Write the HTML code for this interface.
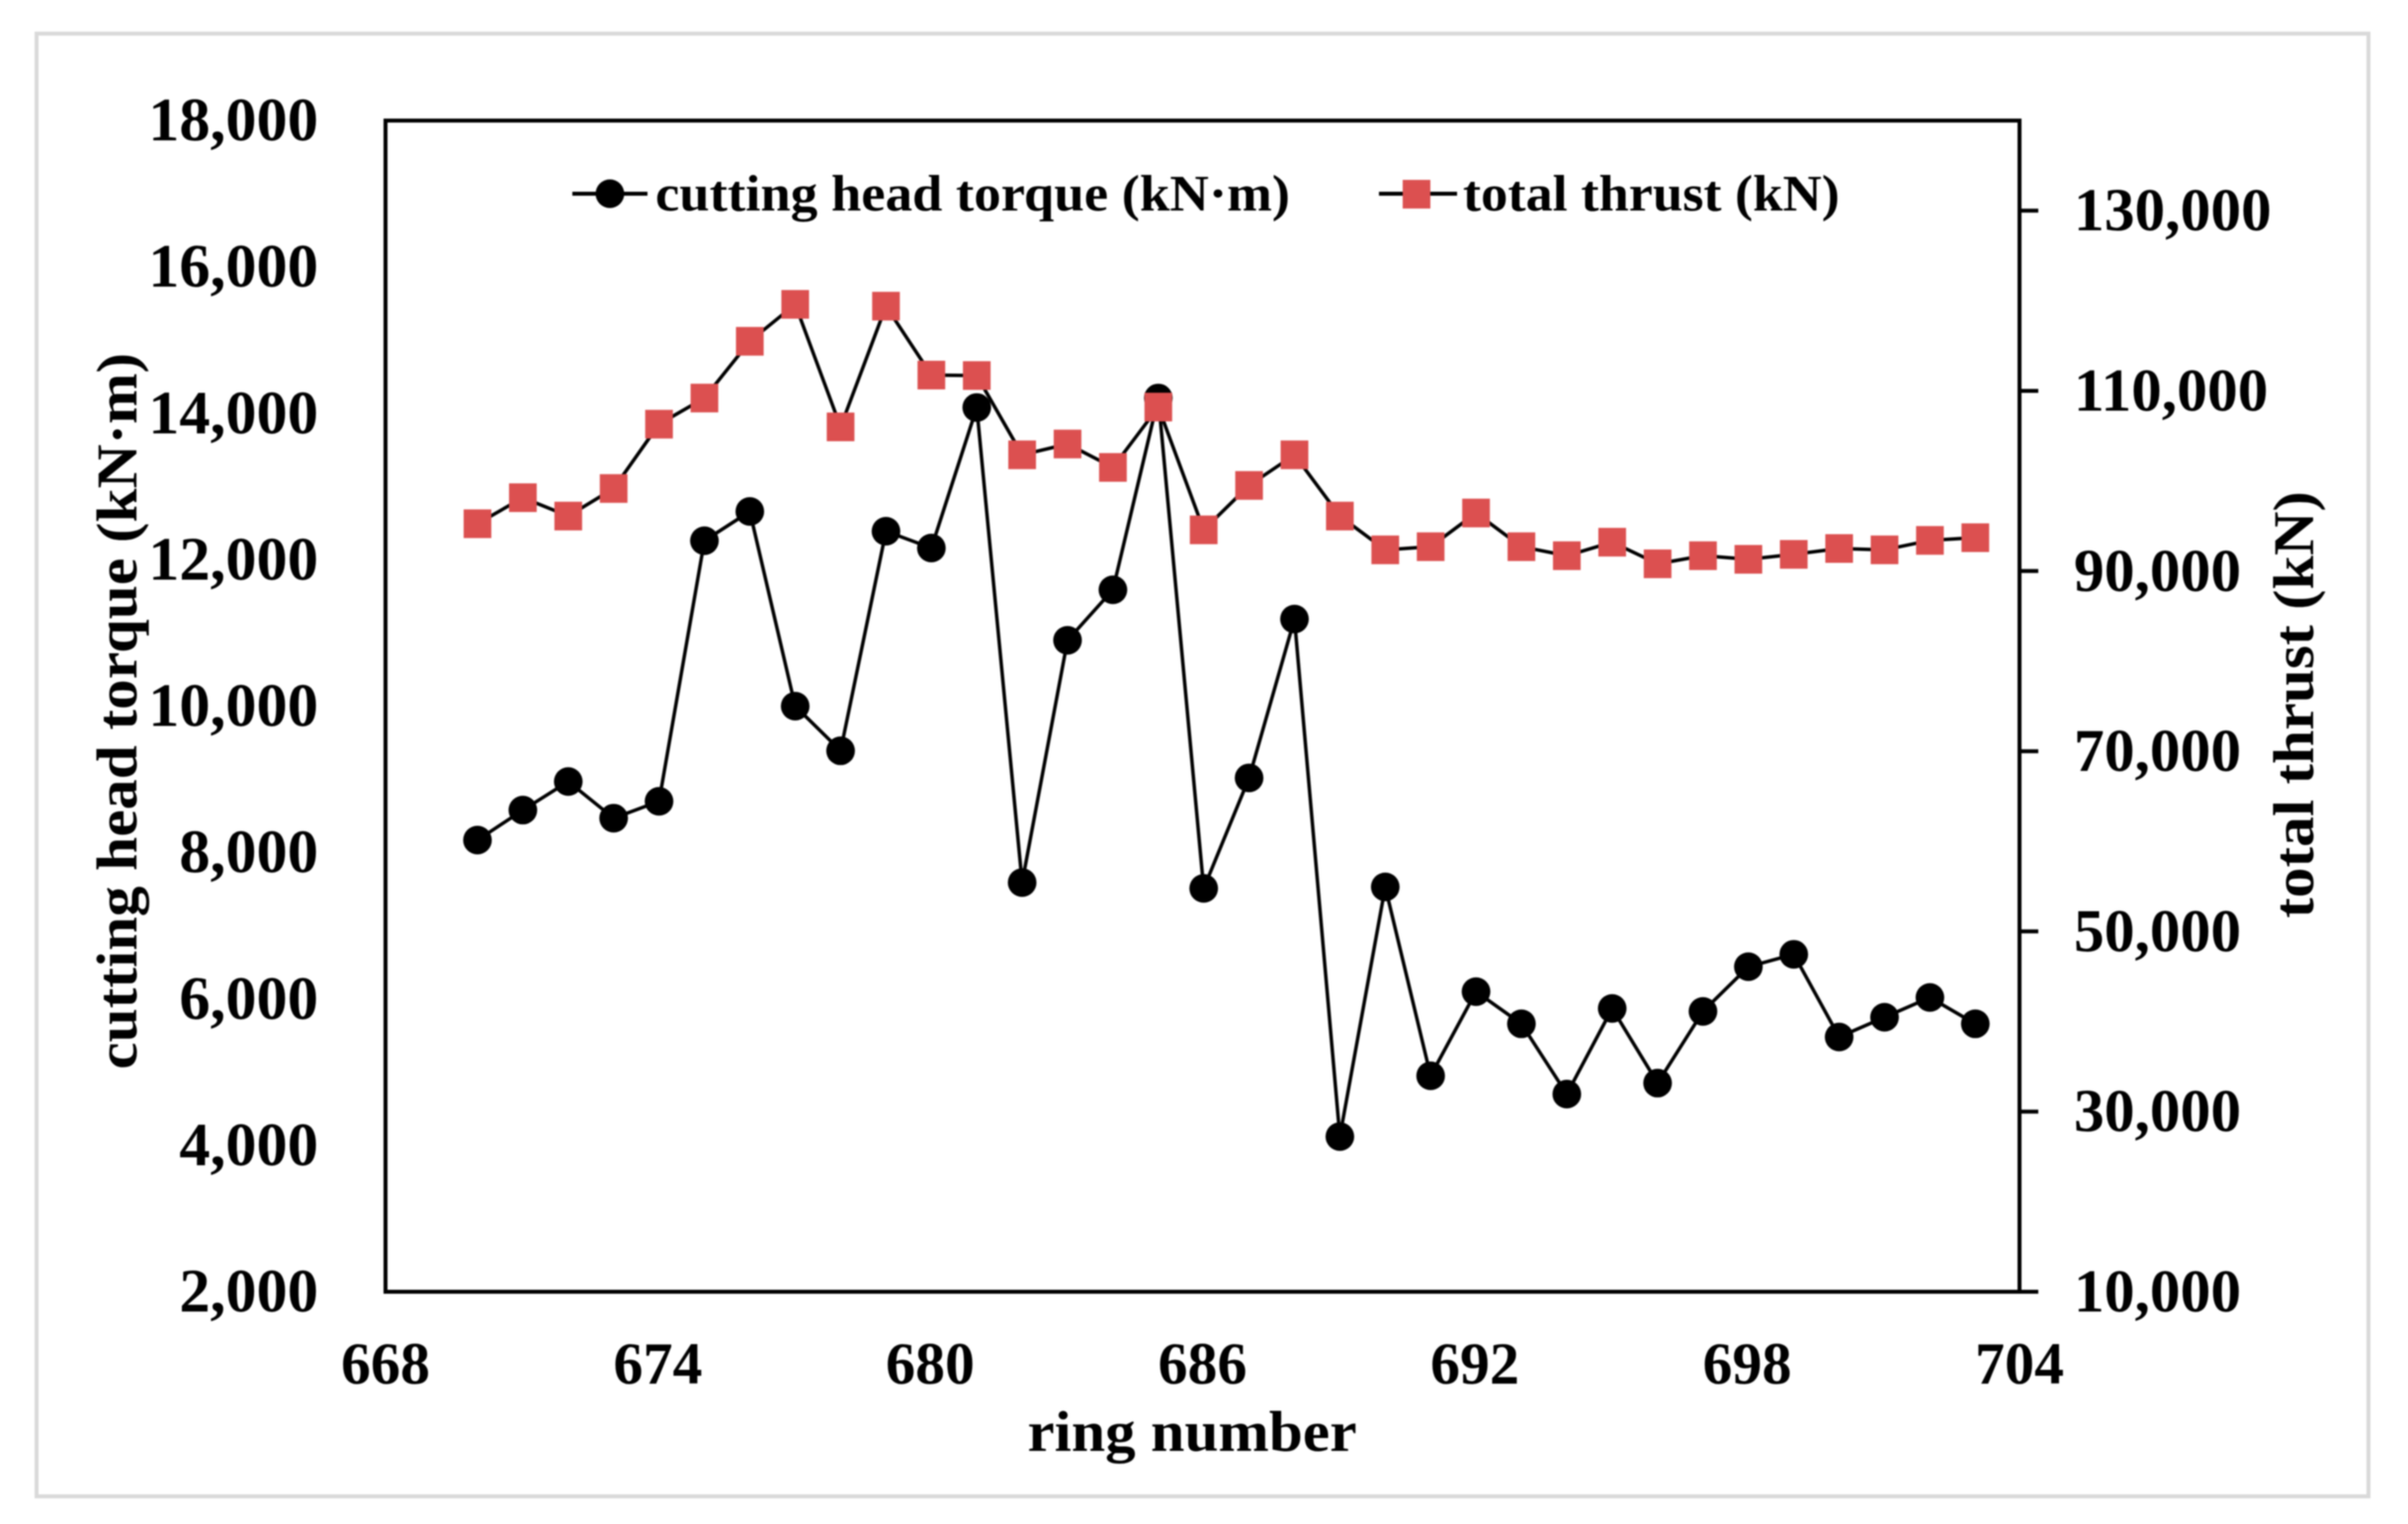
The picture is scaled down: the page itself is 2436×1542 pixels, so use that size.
<!DOCTYPE html>
<html>
<head>
<meta charset="utf-8">
<title>Cutting head torque and total thrust by ring number</title>
<style>
html,body{margin:0;padding:0;background:#fff;}
svg{display:block;filter:blur(0.7px);}
text{font-family:"Liberation Serif",serif;font-weight:bold;fill:#000;}
</style>
</head>
<body>
<svg id="chart" xmlns="http://www.w3.org/2000/svg" width="2436" height="1542" viewBox="0 0 2436 1542">
  <rect x="37" y="34" width="2359" height="1480" fill="#fff" stroke="#d9d9d9" stroke-width="4"/>
  <rect x="390" y="122" width="1653" height="1185" fill="none" stroke="#000" stroke-width="4"/>
  <g id="ticks"></g>
  <g id="left-labels"></g>
  <g id="right-labels"></g>
  <g id="x-labels"></g>
  <g id="torque"></g>
  <g id="thrust"></g>

  <text x="1206" y="1468" font-size="58" text-anchor="middle" textLength="333" lengthAdjust="spacingAndGlyphs">ring number</text>
  <text transform="translate(138,1082) rotate(-90)" font-size="58" textLength="725" lengthAdjust="spacingAndGlyphs">cutting head torque (kN·m)</text>
  <text transform="translate(2340,929) rotate(-90)" font-size="58" textLength="432" lengthAdjust="spacingAndGlyphs">total thrust (kN)</text>

  <g>
    <g>
      <line x1="579" y1="196" x2="655" y2="196" stroke="#000" stroke-width="4"/>
      <circle cx="617" cy="196" r="14.5" fill="#000"/>
      <text x="663" y="213" font-size="52" textLength="642" lengthAdjust="spacingAndGlyphs">cutting head torque (kN·m)</text>
    </g>
    <g>
      <line x1="1395" y1="196" x2="1474" y2="196" stroke="#000" stroke-width="4"/>
      <rect x="1419" y="182" width="28" height="29" fill="#dc5050"/>
      <text x="1480" y="213" font-size="52" textLength="381" lengthAdjust="spacingAndGlyphs">total thrust (kN)</text>
    </g>
  </g>
</svg>
<script>
var rings = [670,671,672,673,674,675,676,677,678,679,680,681,682,683,684,685,686,687,688,689,690,691,692,693,694,695,696,697,698,699,700,701,702,703];
var torqueValues = [8170,8580,8970,8470,8700,12260,12660,10000,9390,12390,12160,14080,7590,10900,11590,14210,7510,9020,11190,4120,7530,4950,6100,5660,4700,5870,4850,5830,6440,6610,5480,5750,6020,5660];
var thrustValues = [95250,98140,96100,99160,106300,109200,115500,119600,106000,119400,111750,111700,102900,104100,101500,108200,94570,99500,102900,96100,92350,92700,96440,92700,91700,93200,90800,91700,91300,91850,92500,92350,93400,93700];
var xTicks = [668,674,680,686,692,698,704];
var leftTicks = [2000,4000,6000,8000,10000,12000,14000,16000,18000];
var rightTicks = [10000,30000,50000,70000,90000,110000,130000];

var NS = 'http://www.w3.org/2000/svg';
var plotLeft = 390, plotRight = 2043, plotTop = 122, plotBottom = 1307;
var markDx = 1.2;
function xScale(v){ return plotLeft + (v - 668) / (704 - 668) * (plotRight - plotLeft); }
function yLeft(v){ return plotBottom - (v - 2000) / (18000 - 2000) * (plotBottom - plotTop); }
function yRight(v){ return plotBottom - (v - 10000) / (140000 - 10000) * (plotBottom - plotTop); }
function fmt(v){ return String(v).replace(/\B(?=(\d{3})+$)/g, ','); }
function make(tag, attrs, parent){
  var el = document.createElementNS(NS, tag);
  for (var k in attrs) el.setAttribute(k, attrs[k]);
  parent.appendChild(el);
  return el;
}

var leftGroup = document.getElementById('left-labels');
leftTicks.forEach(function(v){
  var t = make('text', {x: 322, y: yLeft(v) + 20, 'font-size': 62.5, 'text-anchor': 'end'}, leftGroup);
  
  
  t.textContent = fmt(v);
});

var tickGroup = document.getElementById('ticks');
var rightGroup = document.getElementById('right-labels');
rightTicks.forEach(function(v){
  var tick = make('line', {x1: plotRight, x2: plotRight + 19, y1: yRight(v), y2: yRight(v), stroke: '#000', 'stroke-width': 4}, tickGroup);
  
  
  var t = make('text', {x: 2098, y: yRight(v) + 20, 'font-size': 61.5, 'text-anchor': 'start'}, rightGroup);
  
  
  t.textContent = fmt(v);
});

var xGroup = document.getElementById('x-labels');
xTicks.forEach(function(v){
  var t = make('text', {x: xScale(v), y: 1400, 'font-size': 60, 'text-anchor': 'middle'}, xGroup);
  
  
  t.textContent = v;
});

function pointsFor(values, yFn){
  return values.map(function(v, i){ return (xScale(rings[i]) + markDx) + ',' + yFn(v); }).join(' ');
}

var torqueGroup = document.getElementById('torque');
var torqueLine = make('polyline', {points: pointsFor(torqueValues, yLeft), fill: 'none', stroke: '#000', 'stroke-width': 3.5, 'stroke-linejoin': 'round'}, torqueGroup);


torqueValues.forEach(function(v, i){
  var c = make('circle', {cx: xScale(rings[i]) + markDx, cy: yLeft(v), r: 14.5, fill: '#000'}, torqueGroup);
  
  
});

var thrustGroup = document.getElementById('thrust');
var thrustLine = make('polyline', {points: pointsFor(thrustValues, yRight), fill: 'none', stroke: '#000', 'stroke-width': 3.5, 'stroke-linejoin': 'round'}, thrustGroup);


thrustValues.forEach(function(v, i){
  var r = make('rect', {x: xScale(rings[i]) + markDx - 14, y: yRight(v) - 14.5, width: 28, height: 29, fill: '#dc5050'}, thrustGroup);
  
  
});
</script>
</body>
</html>
